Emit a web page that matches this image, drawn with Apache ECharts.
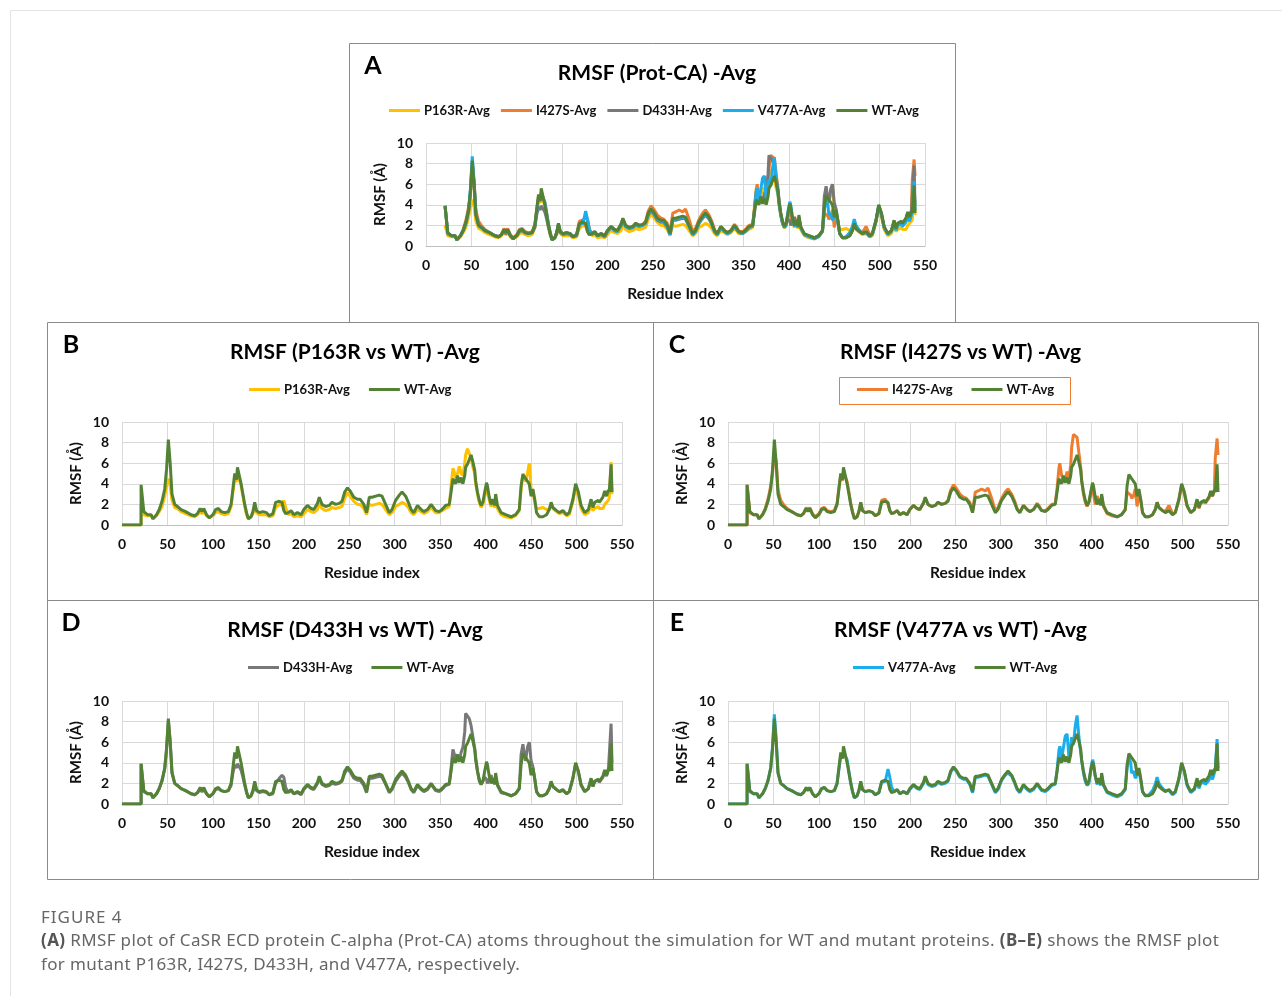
<!DOCTYPE html>
<html>
<head>
<meta charset="utf-8">
<script src="https://cdn.jsdelivr.net/npm/echarts@6/dist/echarts.min.js"></script>
<style>
  body { margin: 0; background: #fff; }
  #chart { position: absolute; left: 0; top: 0; width: 1282px; height: 996px; }
  .cap { position: absolute; left: 41px; font-family: "Noto Sans", sans-serif; color: #666; }
  #figLabel { top: 905px; font-size: 17px; letter-spacing: 1px; }
  #figText { top: 928px; font-size: 17px; letter-spacing: 0.37px; line-height: 24px; width: 1240px; }
  #figText b { font-weight: 700; color: #555; }
</style>
</head>
<body>
<div id="chart"></div>
<div class="cap" id="figLabel">FIGURE 4</div>
<div class="cap" id="figText"><b>(A)</b> RMSF plot of CaSR ECD protein C-alpha (Prot-CA) atoms throughout the simulation for WT and mutant proteins. <b>(B–E)</b> shows the RMSF plot<br>for mutant P163R, I427S, D433H, and V477A, respectively.</div>
<script>
// residue index of each sampled point
const residues = [21,24,28,32,34,38,41,44,47,49,51,53,55,58,61,65,70,76,80,83,
  86,88,90,93,96,100,103,106,109,113,117,120,122,124,126,127,129,131,133,135,
  137,139,142,144,146,148,151,155,159,162,166,169,173,176,178,180,183,186,189,193,
  197,200,204,208,211,215,217,220,224,228,231,235,239,242,245,248,251,255,259,262,
  266,269,272,275,279,283,286,290,294,297,301,305,308,312,315,318,321,325,329,332,
  336,340,342,345,349,352,356,360,362,364,365,367,369,371,373,375,377,378,380,382,
  384,386,388,389,391,393,395,397,399,401,402,404,406,408,410,411,413,417,422,428,
  433,437,439,441,443,444,446,448,450,452,454,456,459,463,467,470,472,474,478,481,
  485,489,492,496,499,502,505,509,513,516,518,520,524,525,529,531,533,535,536,538,
  539];

const wtAvg = [3.9,1.3,1.0,1.0,0.6,1.0,1.5,2.3,3.5,5.4,8.3,6.0,3.0,2.0,1.8,1.5,1.3,1.0,0.9,1.1,
  1.6,1.3,1.6,1.0,0.7,1.0,1.5,1.6,1.3,1.2,1.3,2.0,3.5,5.0,4.4,5.6,4.8,4.0,3.0,2.0,
  1.2,0.6,0.8,1.3,2.2,1.4,1.2,1.3,1.2,0.9,1.1,2.2,2.3,2.2,1.4,1.1,1.2,1.4,1.0,1.2,
  1.0,1.5,1.9,1.6,1.5,2.1,2.7,2.0,1.8,1.9,2.2,2.0,2.1,2.3,3.2,3.6,3.3,2.7,2.5,2.5,
  2.0,1.2,2.7,2.7,2.8,2.9,2.8,2.0,1.2,1.5,2.4,2.9,3.2,2.8,2.2,1.5,1.2,1.9,1.5,1.3,
  1.5,2.0,1.9,1.4,1.3,1.5,1.9,2.0,3.2,4.5,4.3,4.0,4.8,4.1,4.6,4.0,4.8,5.6,5.9,5.9,
  6.8,6.1,5.3,4.3,3.2,2.4,1.9,2.2,3.2,4.1,3.8,2.7,2.0,2.5,1.9,3.0,1.9,1.2,1.0,0.8,
  1.0,1.5,3.8,4.9,4.8,4.5,4.6,4.0,2.8,3.5,2.5,1.2,0.8,0.8,1.0,1.5,2.2,1.7,1.4,1.2,
  1.4,1.0,1.2,2.5,4.0,3.2,1.9,1.2,1.5,2.5,1.7,2.2,2.4,2.2,2.7,3.3,2.8,3.4,3.2,5.9,
  3.2];

const p163rAvg = [2.0,1.0,0.9,0.9,0.6,0.9,1.3,1.8,2.8,3.8,4.5,3.8,2.4,1.7,1.6,1.3,1.1,0.9,0.8,1.0,
  1.3,1.1,1.3,0.9,0.7,0.9,1.2,1.3,1.1,1.0,1.1,1.8,3.2,4.4,4.2,4.9,4.5,3.8,2.8,1.8,
  1.0,0.6,0.8,1.1,1.6,1.2,1.0,1.0,1.0,0.8,0.9,1.7,2.0,1.9,2.4,1.7,1.0,1.1,0.8,0.9,
  0.8,1.1,1.5,1.3,1.2,1.5,2.1,1.6,1.4,1.5,1.7,1.6,1.7,1.8,2.6,3.1,2.8,2.3,2.0,2.0,
  1.6,1.0,2.0,1.9,2.0,2.1,2.0,1.5,1.0,1.2,1.8,2.0,2.2,2.0,1.7,1.2,1.0,1.5,1.3,1.1,
  1.3,1.7,1.6,1.2,1.2,1.4,1.6,1.8,3.8,5.5,5.3,4.6,5.0,5.7,5.0,4.8,6.0,6.8,7.4,7.3,
  6.5,5.6,5.0,4.0,3.0,2.2,1.7,2.0,2.8,3.5,3.3,2.4,1.8,2.2,1.7,2.6,1.6,1.0,0.8,0.7,
  0.9,1.4,3.5,5.0,4.6,4.2,5.0,6.0,3.5,3.2,2.2,1.6,1.6,1.7,1.5,1.5,2.0,1.6,1.3,1.1,
  1.2,0.9,1.0,2.3,3.6,2.8,1.6,1.0,1.2,2.0,1.4,1.6,1.8,1.6,1.6,2.0,1.9,2.4,2.6,6.1,
  3.0];

const i427sAvg = [3.9,1.2,1.0,1.0,0.6,1.0,1.6,2.5,3.8,5.0,7.0,6.2,3.4,2.4,2.0,1.6,1.3,1.0,0.9,1.1,
  1.7,1.4,1.7,1.1,0.8,1.1,1.6,1.7,1.4,1.3,1.4,2.1,3.6,4.8,4.3,5.2,4.7,4.2,3.2,2.1,
  1.3,0.7,0.8,1.3,2.1,1.4,1.2,1.3,1.2,0.9,1.1,2.4,2.5,2.0,1.4,1.1,1.2,1.4,1.0,1.2,
  1.0,1.5,1.9,1.6,1.5,2.2,2.6,2.0,1.8,1.9,2.2,2.0,2.1,2.4,3.4,3.9,3.6,3.0,2.7,2.6,
  2.2,1.3,3.2,3.3,3.5,3.3,3.6,2.6,1.4,1.7,2.6,3.2,3.5,3.0,2.4,1.6,1.2,1.9,1.5,1.3,
  1.5,2.1,1.9,1.4,1.4,1.6,2.0,2.1,3.6,5.5,6.0,4.8,4.5,4.2,5.2,4.6,5.8,7.5,8.8,8.8,
  8.5,7.0,5.6,4.4,3.0,2.2,1.8,2.2,3.0,3.8,3.0,2.0,2.8,2.4,2.0,2.8,1.8,1.1,0.9,0.8,
  1.0,1.5,3.2,3.2,2.9,2.6,2.8,3.5,1.8,3.0,2.4,1.2,0.8,0.8,1.0,1.5,2.2,1.7,1.4,1.3,
  1.9,1.1,1.2,2.4,3.9,3.0,1.8,1.2,1.5,2.4,1.6,2.1,2.3,2.1,2.6,3.2,2.8,3.4,6.5,8.4,
  6.8];

const d433hAvg = [3.9,1.2,1.0,1.0,0.6,1.0,1.5,2.2,3.4,5.2,8.1,6.1,3.1,2.0,1.8,1.5,1.3,1.0,0.9,1.1,
  1.4,1.2,1.4,1.0,0.7,1.0,1.4,1.5,1.3,1.2,1.3,1.8,3.0,3.8,3.5,3.9,3.6,3.3,2.6,1.8,
  1.1,0.6,0.8,1.2,2.0,1.3,1.1,1.2,1.1,0.9,1.0,2.0,2.5,2.8,2.6,1.6,1.1,1.3,1.0,1.1,
  0.9,1.4,1.8,1.5,1.4,2.0,2.5,1.9,1.7,1.8,2.0,1.9,2.0,2.2,3.0,3.4,3.1,2.5,2.3,2.3,
  1.8,1.1,2.5,2.5,2.6,2.7,2.6,1.9,1.1,1.4,2.2,2.7,3.0,2.6,2.1,1.4,1.1,1.8,1.4,1.2,
  1.4,1.9,1.8,1.3,1.2,1.4,1.8,1.9,3.5,5.3,5.0,4.5,4.8,4.2,5.0,5.5,7.0,8.8,8.9,8.3,
  7.6,6.5,5.4,4.6,3.2,2.2,1.9,2.0,2.6,2.4,2.0,2.4,2.8,2.2,2.0,2.6,1.8,1.1,1.0,0.8,
  1.0,1.5,4.8,5.8,4.5,4.2,5.5,6.0,4.2,3.6,2.4,1.2,0.8,0.8,1.0,1.5,2.1,1.7,1.4,1.2,
  1.3,1.0,1.2,2.5,3.9,3.1,1.8,1.2,1.5,2.4,1.7,2.2,2.4,2.1,2.6,3.2,2.7,3.3,3.2,7.8,
  4.0];

const v477aAvg = [3.9,1.2,1.0,1.0,0.6,1.0,1.5,2.2,3.5,5.6,8.7,6.3,3.1,2.0,1.8,1.5,1.3,1.0,0.9,1.1,
  1.5,1.3,1.6,1.0,0.7,1.0,1.5,1.6,1.3,1.2,1.3,2.0,3.4,4.6,4.5,5.0,4.9,4.3,3.2,2.1,
  1.2,0.6,0.8,1.3,2.1,1.4,1.2,1.3,1.2,0.9,1.1,2.1,2.2,3.4,2.6,1.6,1.2,1.4,1.0,1.2,
  1.0,1.4,1.8,1.5,1.4,2.0,2.6,1.9,1.7,1.8,2.1,1.9,2.0,2.2,3.1,3.5,3.2,2.6,2.4,2.4,
  1.9,1.1,2.6,2.6,2.7,2.8,2.7,1.9,1.1,1.4,2.3,2.8,3.0,2.7,2.1,1.4,1.1,1.8,1.4,1.2,
  1.4,1.9,1.8,1.3,1.2,1.4,1.8,1.9,3.3,5.2,5.6,4.4,4.5,6.6,6.8,4.6,5.5,6.5,5.8,7.6,
  8.6,6.5,5.0,4.2,3.0,2.2,1.8,2.0,3.4,4.3,4.0,2.7,1.9,2.4,1.8,2.8,1.8,1.1,0.9,0.7,
  0.9,1.4,3.5,4.5,4.0,3.0,3.2,2.5,2.6,3.2,2.3,1.2,0.8,0.9,1.3,1.9,2.6,2.0,1.5,1.3,
  1.3,0.9,1.1,2.4,3.9,3.1,1.8,1.1,1.4,2.3,1.5,2.0,2.1,1.9,2.3,2.8,2.4,3.0,3.4,6.3,
  3.5];

// panels B-E start with a flat zero run before the first residue
const leadResidues = [0, 21];
const leadValues = [0, 0];

const FONT = "Lato, 'Noto Sans', sans-serif";

const seriesInfo = {
  p163r: { name: "P163R-Avg", values: p163rAvg, color: "#FFC000" },
  i427s: { name: "I427S-Avg", values: i427sAvg, color: "#ED7D31" },
  d433h: { name: "D433H-Avg", values: d433hAvg, color: "#787878" },
  v477a: { name: "V477A-Avg", values: v477aAvg, color: "#1CAEEC" },
  wt: { name: "WT-Avg", values: wtAvg, color: "#548235" },
};

const panels = [
  { letter: "A", box: [349, 43, 606, 279], grid: [426, 143, 499, 103], title: "RMSF (Prot-CA) -Avg",
    legendLeft: 389, legendGap: 11, xName: "Residue Index", keys: ["p163r", "i427s", "d433h", "v477a", "wt"], lead: false },
  { letter: "B", box: [47, 322, 606, 278], grid: [122, 422, 500, 103], title: "RMSF (P163R vs WT) -Avg",
    legendLeft: 249, legendGap: 19, xName: "Residue index", keys: ["p163r", "wt"], lead: true },
  { letter: "C", box: [653, 322, 605, 278], grid: [728, 422, 500, 103], title: "RMSF (I427S vs WT) -Avg",
    legendLeft: 857, legendGap: 19, xName: "Residue index", keys: ["i427s", "wt"], lead: true },
  { letter: "D", box: [47, 600, 606, 279], grid: [122, 701, 500, 103], title: "RMSF (D433H vs WT) -Avg",
    legendLeft: 248, legendGap: 19, xName: "Residue index", keys: ["d433h", "wt"], lead: true },
  { letter: "E", box: [653, 600, 605, 279], grid: [728, 701, 500, 103], title: "RMSF (V477A vs WT) -Avg",
    legendLeft: 853, legendGap: 19, xName: "Residue index", keys: ["v477a", "wt"], lead: true },
];

function pairs(xs, ys) {
  return xs.map((x, i) => [x, ys[i]]);
}

const labelStyle = { fontFamily: FONT, fontWeight: "bold", fontSize: 14, color: "#111" };
const gridLine = { show: true, lineStyle: { color: "#D9D9D9", width: 1 } };

const option = {
  animation: false,
  backgroundColor: "#fff",
  title: [],
  legend: [],
  grid: [],
  xAxis: [],
  yAxis: [],
  series: [],
  graphic: [
    { type: "rect", shape: { x: 10.5, y: 10.5, width: 1300, height: 1000 }, style: { fill: "none", stroke: "#E3E3E3", lineWidth: 1 } },
    { type: "rect", shape: { x: 839.5, y: 377.5, width: 231, height: 27 }, style: { fill: "none", stroke: "#ED7D31", lineWidth: 1 }, z: 10 },
  ],
};

panels.forEach((p, i) => {
  const [bx, by, bw, bh] = p.box;
  const [gl, gt, gw, gh] = p.grid;
  option.graphic.push({ type: "rect", shape: { x: bx + 0.5, y: by + 0.5, width: bw, height: bh },
    style: { fill: "none", stroke: "#8A8A8A", lineWidth: 1 } });
  option.graphic.push({ type: "text", x: bx + 24, y: by + 23, style: { text: p.letter, fontFamily: FONT,
    fontWeight: "bold", fontSize: 25, fill: "#000", align: "center", verticalAlign: "middle" } });

  option.title.push({ text: p.title, left: bx + bw / 2, top: by + 15, textAlign: "center",
    textStyle: { fontFamily: FONT, fontWeight: "bold", fontSize: 21, color: "#000" } });

  option.legend.push({ left: p.legendLeft, top: by + 61, icon: "rect", itemWidth: 31, itemHeight: 3,
    itemGap: p.legendGap, padding: 0, data: p.keys.map((k) => seriesInfo[k].name),
    textStyle: { fontFamily: FONT, fontWeight: "bold", fontSize: 13, color: "#111", padding: [0, 0, 0, -1] } });

  option.grid.push({ left: gl, top: gt, width: gw, height: gh, containLabel: false });
  option.xAxis.push({ type: "value", gridIndex: i, min: 0, max: 550, interval: 50,
    name: p.xName, nameLocation: "middle", nameGap: 40,
    nameTextStyle: { fontFamily: FONT, fontWeight: "bold", fontSize: 15.5, color: "#111" },
    axisLine: { lineStyle: { color: "#BFBFBF" } }, axisTick: { show: false },
    axisLabel: Object.assign({ margin: 12 }, labelStyle), splitLine: gridLine });
  option.yAxis.push({ type: "value", gridIndex: i, min: 0, max: 10, interval: 2,
    name: "RMSF (Å)", nameLocation: "middle", nameGap: 38, nameRotate: 90,
    nameTextStyle: { fontFamily: FONT, fontWeight: "bold", fontSize: 15, color: "#111" },
    axisLine: { show: false }, axisTick: { show: false },
    axisLabel: Object.assign({ margin: 13 }, labelStyle), splitLine: gridLine });

  p.keys.forEach((k) => {
    const s = seriesInfo[k];
    const xs = p.lead ? leadResidues.concat(residues) : residues;
    const ys = p.lead ? leadValues.concat(s.values) : s.values;
    option.series.push({ type: "line", name: s.name, xAxisIndex: i, yAxisIndex: i,
      data: pairs(xs, ys), symbol: "none", color: s.color,
      lineStyle: { color: s.color, width: 3 }, emphasis: { disabled: true } });
  });
});

const chart = echarts.init(document.getElementById("chart"), null, { renderer: "canvas" });
chart.setOption(option);
</script>
</body>
</html>
